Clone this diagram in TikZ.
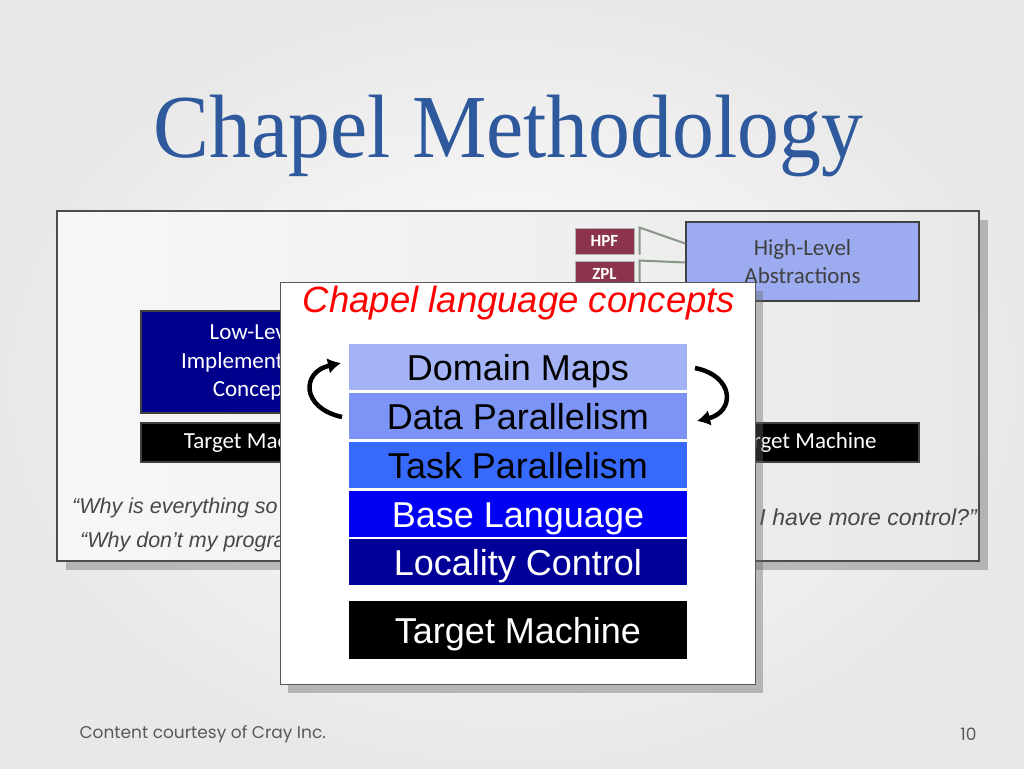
\documentclass[tikz,border=0pt]{standalone}
\usepackage{fontspec}
\setmainfont{Liberation Sans}
\newfontfamily\titlefont{Liberation Serif}
\newfontfamily\calfont{Carlito}
\newfontfamily\footfont{Poppins}
\usetikzlibrary{arrows.meta,shadows}
\definecolor{titleblue}{RGB}{46,89,156}
\definecolor{hpfred}{RGB}{140,52,76}
\definecolor{hlblue}{RGB}{157,172,240}
\definecolor{llnavy}{RGB}{0,0,140}
\definecolor{linkgreen}{RGB}{135,150,135}
\definecolor{dmapcol}{RGB}{163,179,245}
\definecolor{dparcol}{RGB}{124,148,245}
\definecolor{tparcol}{RGB}{55,105,250}
\definecolor{basecol}{RGB}{0,0,245}
\definecolor{loccol}{RGB}{0,0,152}

\begin{document}
\begin{tikzpicture}[x=1pt,y=-1pt,
  oldbox/.style={draw=black!75,line width=1.5pt,inner sep=0pt,align=center,font=\calfont\fontsize{23}{28.5}\selectfont},
  langbox/.style={fill=hpfred,draw=black!30,line width=1pt,minimum width=59pt,minimum height=26pt,inner sep=0pt,text=white,font=\calfont\bfseries\fontsize{17}{20}\selectfont},
  hpflink/.style={draw=linkgreen,line width=2pt},
  quotetext/.style={font=\itshape\fontsize{21.5}{24}\selectfont,text=black!72,inner sep=0pt},
  conceptbar/.style={minimum width=338pt,minimum height=46pt,inner sep=0pt,text height=26pt,text depth=0pt,font=\fontsize{36}{40}\selectfont},
  cyclearrow/.style={line width=4.5pt,-{Latex[length=13pt,width=16pt]}}]
\useasboundingbox (0,0) rectangle (1024,768);
\shade[inner color=white,outer color=black!9] (0,0) rectangle (1024,768);
\node[text=titleblue,font=\titlefont\fontsize{90}{92}\selectfont,anchor=base] (title) at (508.5,157) {\scalebox{0.93}[1]{Chapel Methodology}};

\draw[draw=black!70,line width=1.2pt,left color=black!3,right color=black!9,drop shadow={shadow xshift=9pt,shadow yshift=-9pt,opacity=0.4,fill=black!60}] (57,211) rectangle (979,561);
\node[langbox] (hpf) at (604.5,241) {HPF};
\node[langbox] (zpl) at (604.5,274) {ZPL};
\node[oldbox,fill=hlblue,text=black!75,minimum width=233pt,minimum height=79pt] (hla) at (802.5,261.5) {High-Level\\Abstractions};
\draw[hpflink] ([xshift=5pt]hpf.south east) -- ([xshift=5pt]hpf.north east) -- ([yshift=18pt]hla.west);
\draw[hpflink] ([xshift=5pt]zpl.south east) -- ([xshift=5pt]zpl.north east) -- ([yshift=-1pt]hla.west);
\node[oldbox,fill=llnavy,text=white,minimum width=230pt,minimum height=102pt] (llc) at (256,362) {Low-Level\\Implementation\\Concepts};
\node[oldbox,fill=black,text=white,minimum width=230pt,minimum height=39pt] (tml) at (256,442.5) {Target Machine};
\node[oldbox,fill=black,text=white,minimum width=229pt,minimum height=39pt] (tmr) at (804.5,442.5) {Target Machine};
\node[quotetext,anchor=west] (q1) at (72,508) {“Why is everything so tedious?”};
\node[quotetext,anchor=west] (q2) at (80,542) {“Why don’t my programs port trivially?”};
\node[quotetext,anchor=east,font=\itshape\fontsize{23}{26}\selectfont] (q3) at (977,520) {“Why don’t I have more control?”};

\draw[draw=black!65,line width=1pt,fill=white,drop shadow={shadow xshift=8pt,shadow yshift=-9pt,opacity=0.4,fill=black!60}] (280,282) rectangle (755,684);
\node[text=red,font=\itshape\fontsize{36.5}{40}\selectfont,anchor=base] (concepts) at (519,312) {Chapel language concepts};
\node[conceptbar,fill=dmapcol] (dmap) at (518,367) {Domain Maps};
\node[conceptbar,fill=dparcol] (dpar) at (518,416) {Data Parallelism};
\node[conceptbar,fill=tparcol] (tpar) at (518,465) {Task Parallelism};
\node[conceptbar,fill=basecol,text=white] (blang) at (518,514) {Base Language};
\node[conceptbar,fill=loccol,text=white] (loc) at (518,562) {Locality Control};
\node[conceptbar,fill=black,text=white,minimum height=58pt] (tmach) at (518,630) {Target Machine};
\coordinate (ltail) at (342,417);
\coordinate (lhead) at (341,363);
\draw[cyclearrow] (ltail) .. controls (301,408) and (301,372) .. (lhead);
\coordinate (rtail) at (695,368);
\coordinate (rhead) at (697,421);
\draw[cyclearrow] (rtail) .. controls (735,376) and (735,412) .. (rhead);

\node[font=\footfont\fontsize{17}{20}\selectfont,text=black!65,anchor=west] (credit) at (76,734) {Content courtesy of Cray Inc.};
\node[font=\footfont\fontsize{17}{20}\selectfont,text=black!65,anchor=east] (pagenum) at (980,734) {10};
\end{tikzpicture}
\end{document}
